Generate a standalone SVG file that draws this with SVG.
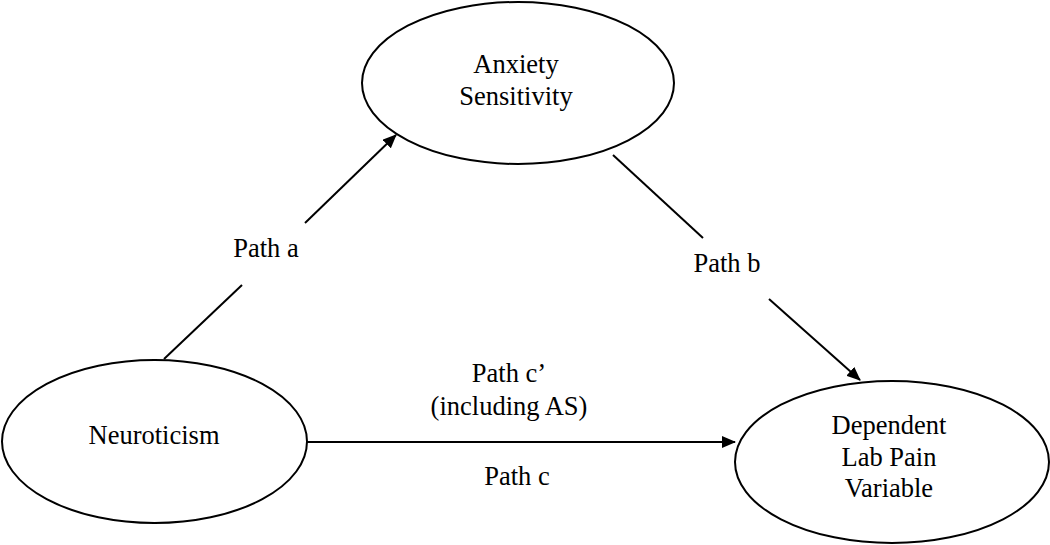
<svg xmlns="http://www.w3.org/2000/svg" width="1050" height="545" viewBox="0 0 1050 545">
<style>
.node ellipse{fill:#fff;stroke:#000;stroke-width:2}
.t{font-family:'Liberation Serif','Times New Roman',Times,serif;font-size:26.5px;fill:#000;text-anchor:middle}
.edge line{stroke:#000;stroke-width:2}
</style>
<defs>
<marker id="arr" markerWidth="14" markerHeight="12" refX="13" refY="6" orient="auto" markerUnits="userSpaceOnUse">
<path d="M0,0 L14,6 L0,12 Z" fill="#000"/>
</marker>
</defs>
<rect width="1050" height="545" fill="#fff"/>
<g id="node-as" class="node">
<ellipse cx="518" cy="83" rx="156" ry="81"/>
<text class="t" x="516" y="73" font-family="Liberation Serif, serif">Anxiety</text>
<text class="t" x="516" y="105" font-family="Liberation Serif, serif">Sensitivity</text>
</g>
<g id="node-neuro" class="node">
<ellipse cx="154.5" cy="441.5" rx="152.5" ry="81.5"/>
<text class="t" x="154" y="444" font-family="Liberation Serif, serif">Neuroticism</text>
</g>
<g id="node-dv" class="node">
<ellipse cx="892" cy="462" rx="157" ry="81"/>
<text class="t" x="889" y="434" font-family="Liberation Serif, serif">Dependent</text>
<text class="t" x="889" y="466" font-family="Liberation Serif, serif">Lab Pain</text>
<text class="t" x="889" y="497" font-family="Liberation Serif, serif">Variable</text>
</g>
<g id="connectors" class="edge">
<line x1="164" y1="359" x2="242" y2="285"/>
<line x1="305" y1="223" x2="396" y2="135" marker-end="url(#arr)"/>
<line x1="613" y1="155" x2="703" y2="238"/>
<line x1="769" y1="299" x2="860" y2="380" marker-end="url(#arr)"/>
<line x1="307" y1="442" x2="735" y2="442" marker-end="url(#arr)"/>
</g>
<g id="labels">
<text class="t" x="266" y="257" font-family="Liberation Serif, serif">Path a</text>
<text class="t" x="727" y="272" font-family="Liberation Serif, serif">Path b</text>
<text class="t" x="509" y="382" font-family="Liberation Serif, serif">Path c’</text>
<text class="t" x="509" y="415" font-family="Liberation Serif, serif">(including AS)</text>
<text class="t" x="517" y="485" font-family="Liberation Serif, serif">Path c</text>
</g>
</svg>
